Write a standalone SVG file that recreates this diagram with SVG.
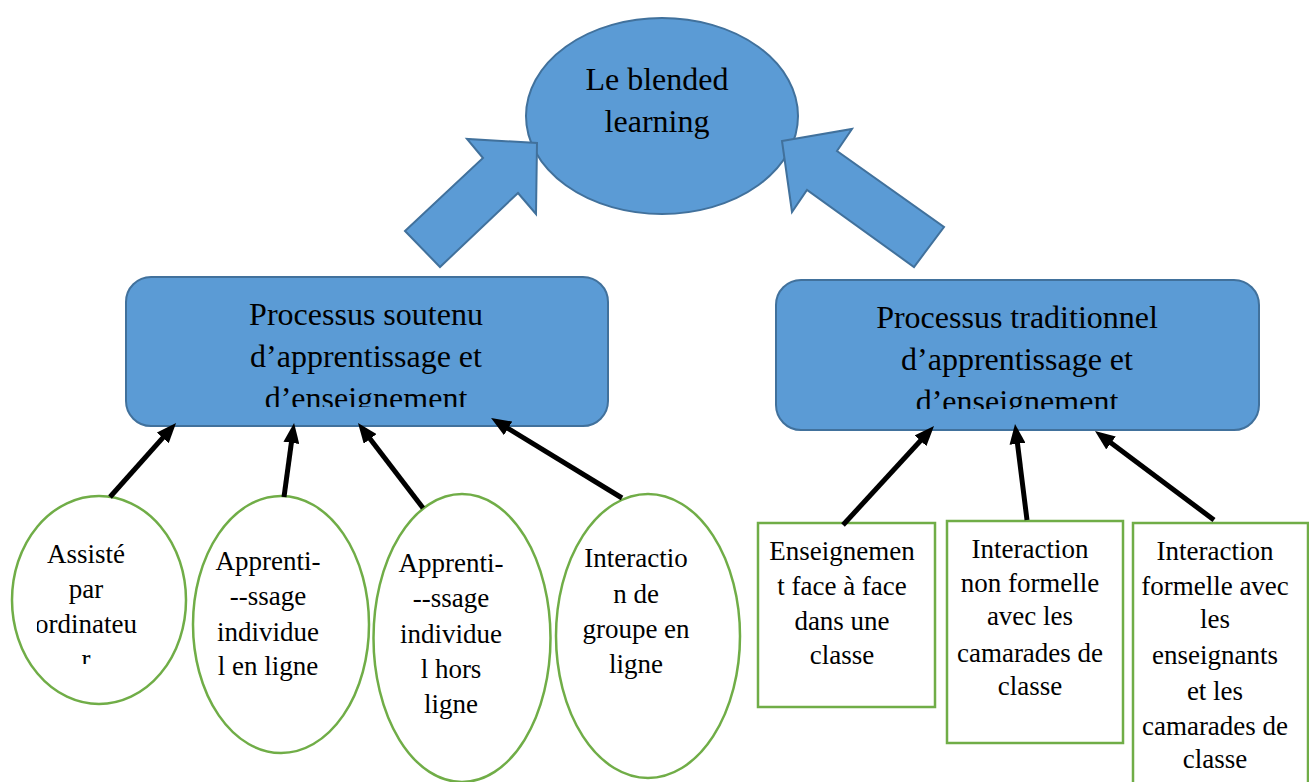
<svg xmlns="http://www.w3.org/2000/svg" width="1309" height="782" viewBox="0 0 1309 782">
<style>
.blue{fill:#5B9BD5;stroke:#41719C;stroke-width:2}
.green{fill:#FFFFFF;stroke:#70AD47;stroke-width:2.5}
.big{font-family:"Liberation Serif","Times New Roman",serif;font-size:32px;fill:#000;text-anchor:middle}
.small{font-family:"Liberation Serif","Times New Roman",serif;font-size:27px;fill:#000;text-anchor:middle}
.conn{stroke:#000;stroke-width:5;fill:none;marker-end:url(#ah)}
</style>
<defs>
<marker id="ah" markerUnits="userSpaceOnUse" markerWidth="20" markerHeight="16" refX="4" refY="8" orient="auto">
<path d="M0,0 L20,8 L0,16 z" fill="#000"/>
</marker>
<clipPath id="clipL"><rect x="126" y="277" width="482" height="130"/></clipPath>
<clipPath id="clipR"><rect x="776" y="280" width="483" height="129"/></clipPath>
<clipPath id="clipE1"><rect x="37" y="500" width="140" height="164"/></clipPath>
</defs>
<rect width="1309" height="782" fill="#FFFFFF"/>

<g id="blended">
<ellipse class="blue" cx="662" cy="116" rx="136" ry="98"/>
<text class="big" x="657" y="90">Le blended</text>
<text class="big" x="657" y="132">learning</text>
</g>

<g id="bigarrow-left">
<polygon class="blue" points="405,231 483,158 467,139 537,143 536,214 518,193 440,267"/>
</g>
<g id="bigarrow-right">
<polygon class="blue" points="782,141 852,129 837,151 944,227 914,267 807,190 792,212"/>
</g>

<g id="soutenu">
<rect class="blue" x="126" y="277" width="482" height="149" rx="25"/>
<g clip-path="url(#clipL)">
<text class="big" x="366" y="325">Processus soutenu</text>
<text class="big" x="366" y="367">d’apprentissage et</text>
<text class="big" x="366" y="409">d’enseignement</text>
</g>
</g>

<g id="traditionnel">
<rect class="blue" x="776" y="280" width="483" height="150" rx="25"/>
<g clip-path="url(#clipR)">
<text class="big" x="1017" y="328">Processus traditionnel</text>
<text class="big" x="1017" y="370">d’apprentissage et</text>
<text class="big" x="1017" y="412">d’enseignement</text>
</g>
</g>

<g id="assiste">
<ellipse class="green" cx="99" cy="600" rx="87" ry="104"/>
<g clip-path="url(#clipE1)">
<text class="small" x="86" y="563">Assisté</text>
<text class="small" x="86" y="598">par</text>
<text class="small" x="86" y="633">ordinateu</text>
<text class="small" x="86" y="668">r</text>
</g>
</g>

<g id="enligne">
<ellipse class="green" cx="281" cy="624.5" rx="88" ry="128.5"/>
<text class="small" x="268" y="570">Apprenti-</text>
<text class="small" x="268" y="605">--ssage</text>
<text class="small" x="268" y="641">individue</text>
<text class="small" x="268" y="675">l en ligne</text>
</g>

<g id="horsligne">
<ellipse class="green" cx="462" cy="638" rx="88.5" ry="144"/>
<text class="small" x="451" y="572">Apprenti-</text>
<text class="small" x="451" y="607">--ssage</text>
<text class="small" x="451" y="643">individue</text>
<text class="small" x="451" y="678">l hors</text>
<text class="small" x="451" y="713">ligne</text>
</g>

<g id="groupe">
<ellipse class="green" cx="648" cy="636" rx="92" ry="142"/>
<text class="small" x="636" y="567">Interactio</text>
<text class="small" x="636" y="603">n de</text>
<text class="small" x="636" y="638">groupe en</text>
<text class="small" x="636" y="673">ligne</text>
</g>

<g id="face">
<rect class="green" x="758" y="523" width="177" height="184"/>
<text class="small" x="842" y="560">Enseignemen</text>
<text class="small" x="842" y="595">t face à face</text>
<text class="small" x="842" y="630">dans une</text>
<text class="small" x="842" y="664">classe</text>
</g>

<g id="nonformelle">
<rect class="green" x="947" y="521" width="176" height="222"/>
<text class="small" x="1030" y="558">Interaction</text>
<text class="small" x="1030" y="592">non formelle</text>
<text class="small" x="1030" y="625">avec les</text>
<text class="small" x="1030" y="662">camarades de</text>
<text class="small" x="1030" y="695">classe</text>
</g>

<g id="formelle">
<rect class="green" x="1133" y="523" width="175" height="270"/>
<text class="small" x="1215" y="560">Interaction</text>
<text class="small" x="1215" y="595">formelle avec</text>
<text class="small" x="1215" y="628">les</text>
<text class="small" x="1215" y="664">enseignants</text>
<text class="small" x="1215" y="700">et les</text>
<text class="small" x="1215" y="735">camarades de</text>
<text class="small" x="1215" y="768">classe</text>
</g>

<g id="connectors">
<line class="conn" x1="110" y1="497" x2="165.4" y2="434.9"/>
<line class="conn" x1="284" y1="497" x2="291.9" y2="438.9"/>
<line class="conn" x1="423" y1="508" x2="367.7" y2="435.7"/>
<line class="conn" x1="622" y1="498" x2="504.7" y2="426.3"/>
<line class="conn" x1="843" y1="525" x2="923.2" y2="437.8"/>
<line class="conn" x1="1027" y1="520" x2="1017" y2="439.9"/>
<line class="conn" x1="1214" y1="520" x2="1107.8" y2="440.6"/>
</g>
</svg>
